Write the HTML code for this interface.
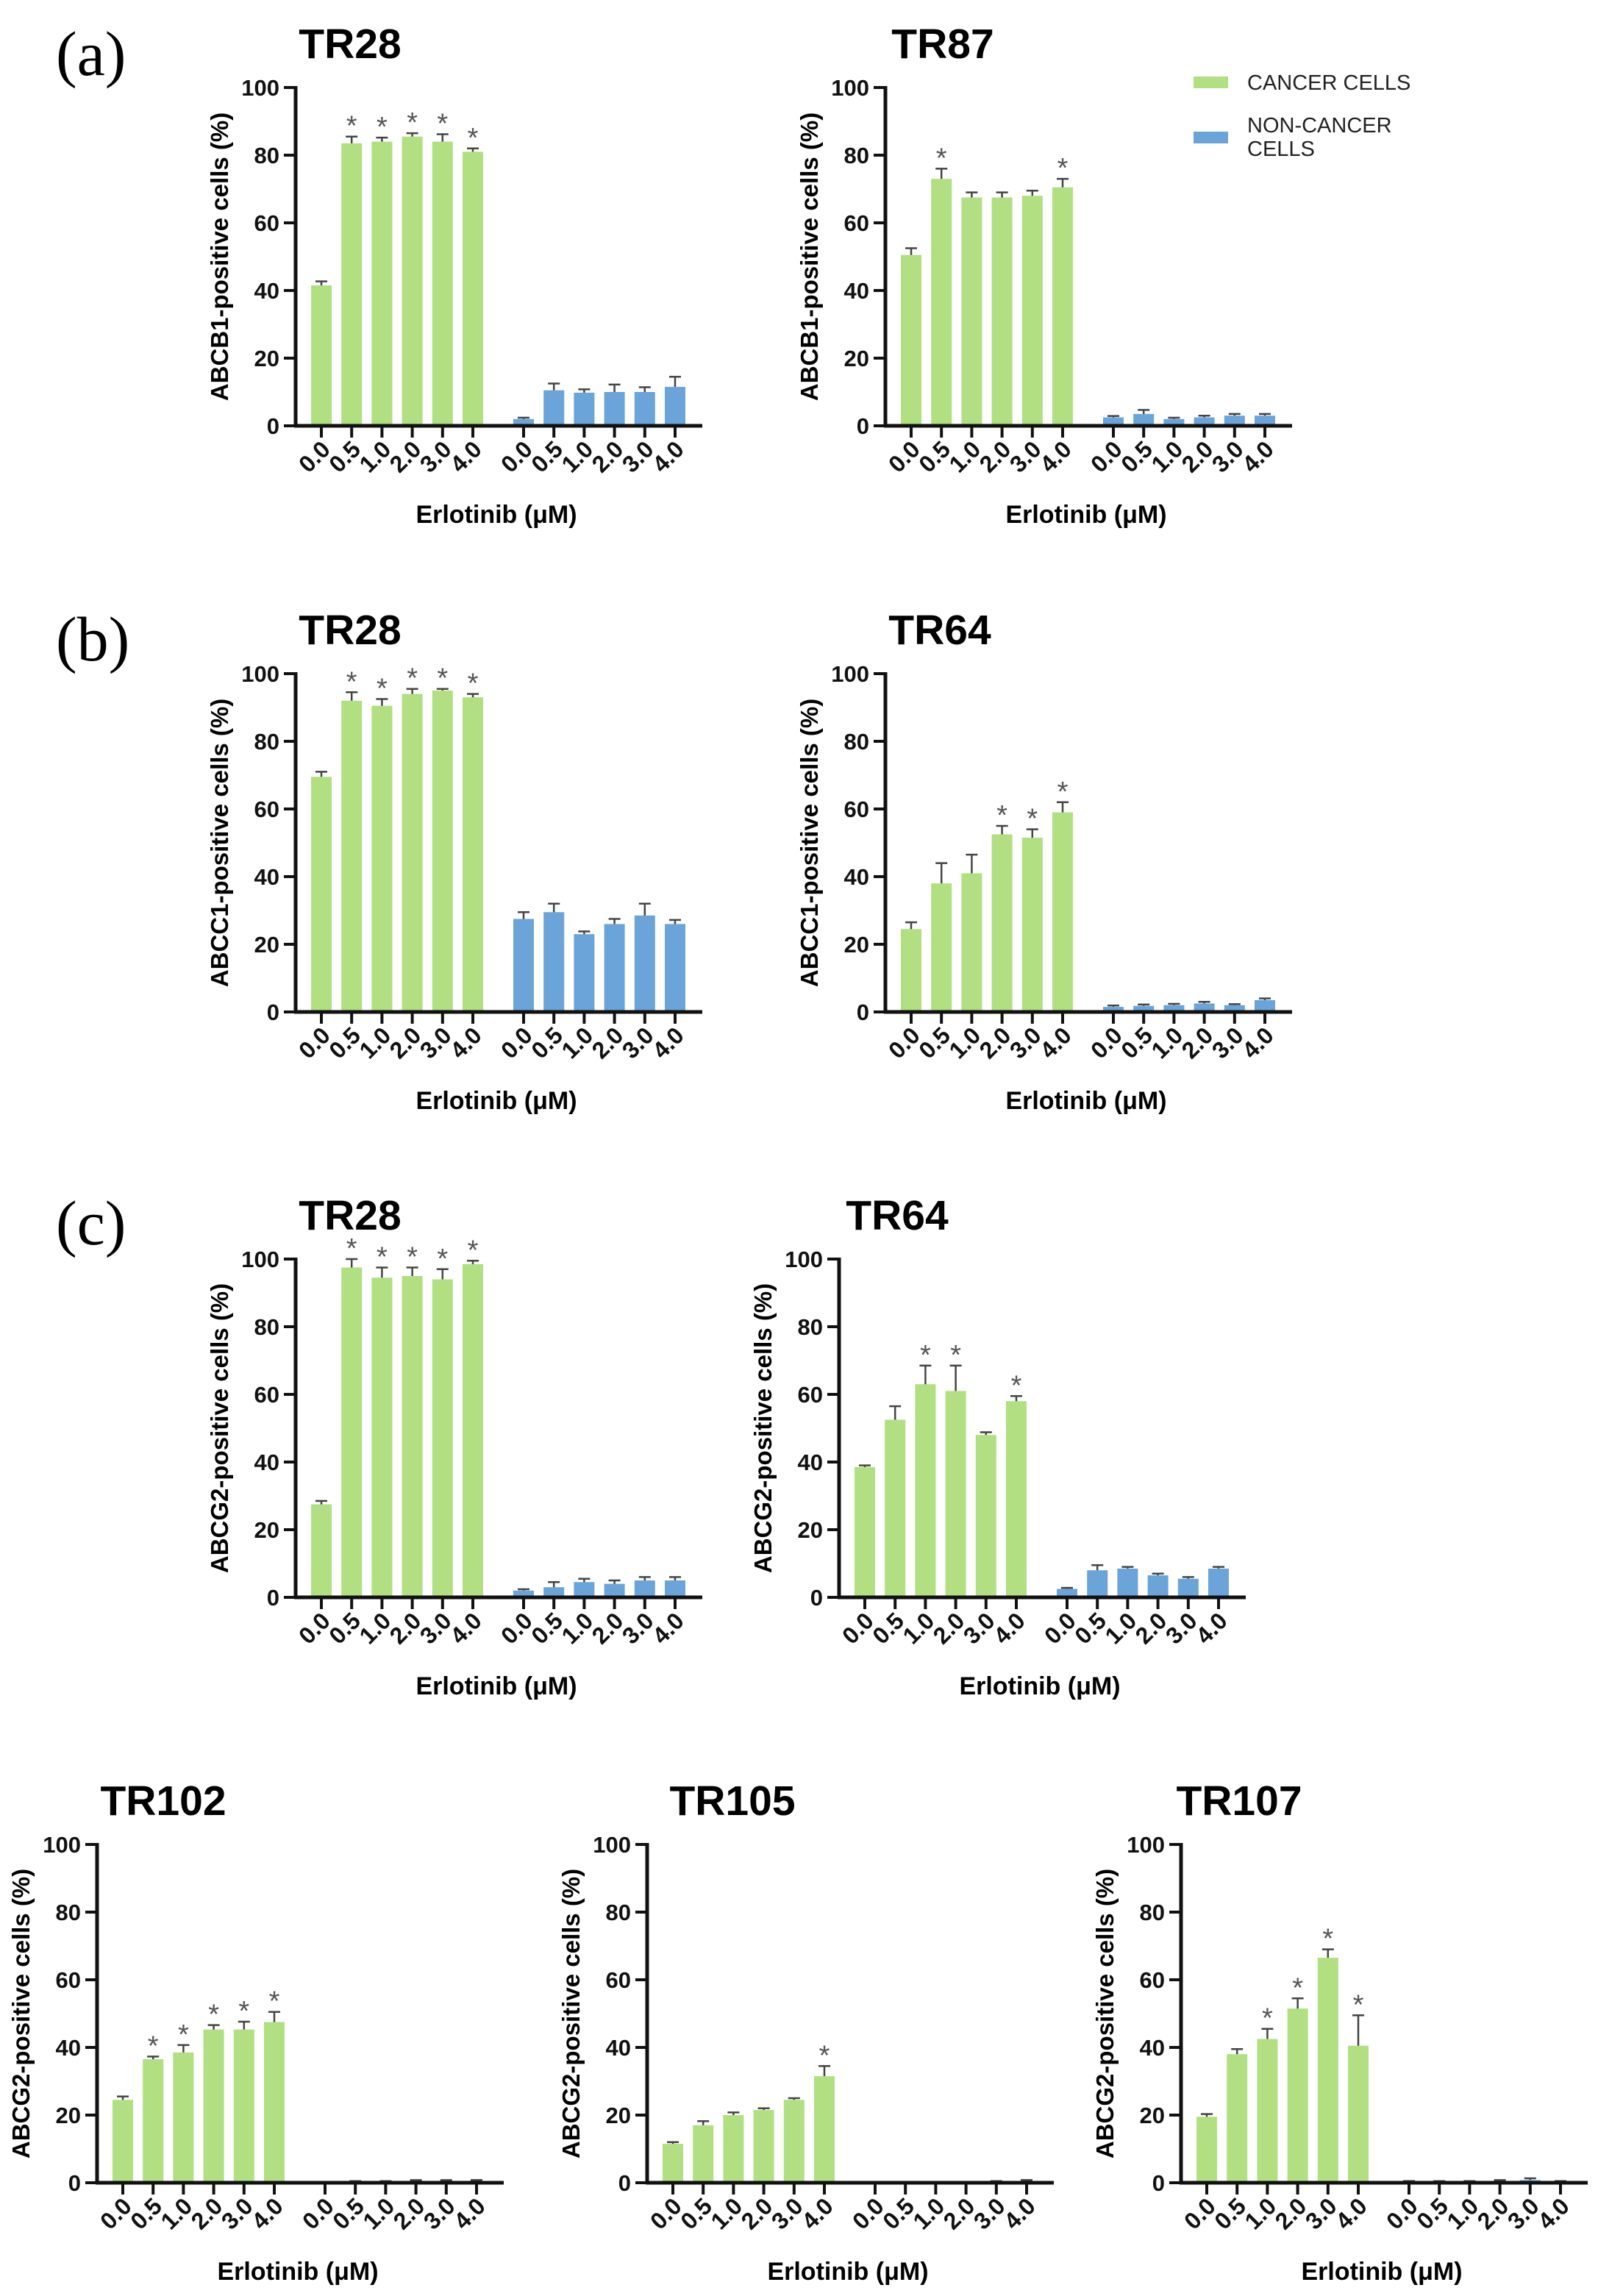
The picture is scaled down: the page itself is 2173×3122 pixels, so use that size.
<!DOCTYPE html>
<html><head><meta charset="utf-8">
<style>
html,body{margin:0;padding:0;background:#fff;}
svg{display:block;}
text{font-family:"Liberation Sans",Arial,sans-serif;}
text.serif{font-family:"Liberation Serif",serif;}
</style></head>
<body>
<svg id="fig" width="2173" height="3122" viewBox="0 0 2173 3122" xmlns="http://www.w3.org/2000/svg">
<rect width="2173" height="3122" fill="#fff"/>
<text class="serif" x="76" y="102" font-size="86">(a)</text>
<text class="serif" x="76" y="898" font-size="86">(b)</text>
<text class="serif" x="76" y="1692" font-size="86">(c)</text>
<g>
<rect x="1623" y="104" width="47" height="16" fill="#b1df82"/>
<text x="1696" y="122" font-size="29" fill="#222">CANCER CELLS</text>
<rect x="1623" y="179" width="47" height="16" fill="#6aa4d8"/>
<text x="1696" y="180" font-size="29" fill="#222">NON-CANCER</text>
<text x="1696" y="212" font-size="29" fill="#222">CELLS</text>
</g>
</svg>
<script>
const doses = ["0.0","0.5","1.0","2.0","3.0","4.0"];
const yTicks = [0,20,40,60,80,100];
// panel a-left TR28 ABCB1
const aL_green = [41.5,83.5,84,85.5,84,81];
const aL_greenErr = [1.2,2,1.2,1,2.2,1];
const aL_blue = [2,10.5,9.8,10,10,11.5];
const aL_blueErr = [0.4,2,1,2.2,1.4,3];
const aL_stars = [0,1,1,1,1,1];
// panel a-right TR87 ABCB1
const aR_green = [50.5,73,67.5,67.5,68,70.5];
const aR_greenErr = [2,3,1.5,1.5,1.5,2.5];
const aR_blue = [2.5,3.5,2,2.5,3,3];
const aR_blueErr = [0.4,1.2,0.4,0.5,0.5,0.5];
const aR_stars = [0,1,0,0,0,1];
// panel b-left TR28 ABCC1
const bL_green = [69.5,92,90.5,94,95,93];
const bL_greenErr = [1.5,2.5,2,1.5,0.5,1];
const bL_blue = [27.5,29.5,23,26,28.5,26];
const bL_blueErr = [2,2.5,0.8,1.5,3.5,1.2];
const bL_stars = [0,1,1,1,1,1];
// panel b-right TR64 ABCC1
const bR_green = [24.5,38,41,52.5,51.5,59];
const bR_greenErr = [2,6,5.5,2.5,2.5,3];
const bR_blue = [1.5,1.8,2,2.5,2,3.5];
const bR_blueErr = [0.4,0.4,0.4,0.5,0.3,0.5];
const bR_stars = [0,0,0,1,1,1];
// panel c-left TR28 ABCG2
const cL_green = [27.5,97.5,94.5,95,94,98.5];
const cL_greenErr = [1,2.5,3,2.5,3,1];
const cL_blue = [2,3,4.5,4,5,5];
const cL_blueErr = [0.4,1.5,1,1,1,1];
const cL_stars = [0,1,1,1,1,1];
// panel c-right TR64 ABCG2
const cR_green = [38.5,52.5,63,61,48,58];
const cR_greenErr = [0.5,4,5.5,7.5,0.8,1.5];
const cR_blue = [2.5,8,8.5,6.5,5.5,8.5];
const cR_blueErr = [0.3,1.5,0.5,0.5,0.5,0.5];
const cR_stars = [0,0,1,1,0,1];
// TR102
const d1_green = [24.5,36.5,38.5,45.3,45.3,47.5];
const d1_greenErr = [1,0.8,2.2,1.3,2.3,3];
const d1_blue = [0,0.3,0.3,0.5,0.5,0.5];
const d1_blueErr = [0,0.2,0.2,0.3,0.3,0.3];
const d1_stars = [0,1,1,1,1,1];
// TR105
const d2_green = [11.5,17,20,21.5,24.5,31.5];
const d2_greenErr = [0.5,1.2,0.8,0.5,0.5,3];
const d2_blue = [0,0,0,0,0.3,0.5];
const d2_blueErr = [0,0,0,0,0.2,0.3];
const d2_stars = [0,0,0,0,0,1];
// TR107
const d3_green = [19.5,38,42.5,51.5,66.5,40.5];
const d3_greenErr = [0.8,1.5,3,3,2.5,9];
const d3_blue = [0.3,0.3,0.3,0.5,0.8,0.3];
const d3_blueErr = [0.2,0.2,0.2,0.3,0.5,0.2];
const d3_stars = [0,0,1,1,1,1];

const NS = "http://www.w3.org/2000/svg";
const svg = document.getElementById('fig');
function mk(tag, attrs, parent){
  const e = document.createElementNS(NS, tag);
  for (const k in attrs) e.setAttribute(k, attrs[k]);
  (parent||svg).appendChild(e);
  return e;
}
function panel(id, x0, z, title, titleX, ylab, green, gErr, blue, bErr, stars){
  const g = mk('g', {});
  
  
  const H = 460;
  const yS = v => z - v / 100 * H;
  const xS = (grp, i) => x0 + 35 + grp * 275 + i * 41.2;
  const t = mk('text', {x: titleX, y: z - 500, 'font-size': 57, 'font-weight': 'bold', 'text-anchor': 'middle'}, g);
  t.textContent = title;
  
  
  yTicks.forEach(v => {
    const yy = yS(v);
    const tk = mk('line', {x1: x0 - 16, x2: x0, y1: yy, y2: yy, stroke: '#111', 'stroke-width': 4}, g);
    
    
    const tl = mk('text', {x: x0 - 22, y: yy + 11, 'font-size': 31, 'font-weight': 'bold', 'text-anchor': 'end', fill: '#111'}, g);
    tl.textContent = v;
    
    
  });
  const yl = mk('text', {x: 0, y: 0, 'font-size': 33, 'font-weight': 'bold', 'text-anchor': 'middle', transform: `translate(${x0 - 92},${z - 230}) rotate(-90)`}, g);
  yl.textContent = ylab;
  
  
  [[green, gErr, '#b1df82', 0], [blue, bErr, '#6aa4d8', 1]].forEach(([vals, errs, col, grp]) => {
    vals.forEach((v, i) => {
      const cx = xS(grp, i);
      const top = yS(v);
      const b = mk('rect', {x: cx - 14, y: top, width: 28, height: Math.max(0, z - top), fill: col}, g);
      
      
      const et = yS(v + errs[i]);
      if (errs[i] > 0) {
        const e1 = mk('line', {x1: cx, x2: cx, y1: top, y2: et, stroke: '#444', 'stroke-width': 2.5}, g);
        
        
        const e2 = mk('line', {x1: cx - 8, x2: cx + 8, y1: et, y2: et, stroke: '#444', 'stroke-width': 2.5}, g);
        
        
      }
      if (!grp && stars[i]) {
        const s = mk('text', {x: cx, y: et - 2, 'font-size': 38, 'text-anchor': 'middle', fill: '#555'}, g);
        s.textContent = '*';
        
        
      }
      const xt = mk('line', {x1: cx, x2: cx, y1: z, y2: z + 16, stroke: '#111', 'stroke-width': 4}, g);
      
      
      const xl = mk('text', {x: 0, y: 0, 'font-size': 32, 'font-weight': 'bold', 'text-anchor': 'end', fill: '#111', transform: `translate(${cx + 14},${z + 34}) rotate(-45)`}, g);
      xl.textContent = doses[i];
      
      
    });
  });
  const ya = mk('line', {x1: x0, x2: x0, y1: z - H - 2, y2: z + 2, stroke: '#111', 'stroke-width': 5}, g);
  
  
  const xa = mk('line', {x1: x0 - 2, x2: x0 + 553, y1: z, y2: z, stroke: '#111', 'stroke-width': 5}, g);
  
  
  const xt = mk('text', {x: x0 + 273, y: z + 132, 'font-size': 34, 'font-weight': 'bold', 'text-anchor': 'middle'}, g);
  xt.textContent = 'Erlotinib (\u03BCM)';
  
  
}
panel('a-tr28', 402, 579, 'TR28', 476, 'ABCB1-positive cells (%)', aL_green, aL_greenErr, aL_blue, aL_blueErr, aL_stars);
panel('a-tr87', 1204, 579, 'TR87', 1282, 'ABCB1-positive cells (%)', aR_green, aR_greenErr, aR_blue, aR_blueErr, aR_stars);
panel('b-tr28', 402, 1376, 'TR28', 476, 'ABCC1-positive cells (%)', bL_green, bL_greenErr, bL_blue, bL_blueErr, bL_stars);
panel('b-tr64', 1204, 1376, 'TR64', 1278, 'ABCC1-positive cells (%)', bR_green, bR_greenErr, bR_blue, bR_blueErr, bR_stars);
panel('c-tr28', 402, 2172, 'TR28', 476, 'ABCG2-positive cells (%)', cL_green, cL_greenErr, cL_blue, cL_blueErr, cL_stars);
panel('c-tr64', 1141, 2172, 'TR64', 1220, 'ABCG2-positive cells (%)', cR_green, cR_greenErr, cR_blue, cR_blueErr, cR_stars);
panel('d-tr102', 132, 2968, 'TR102', 222, 'ABCG2-positive cells (%)', d1_green, d1_greenErr, d1_blue, d1_blueErr, d1_stars);
panel('d-tr105', 880, 2968, 'TR105', 996, 'ABCG2-positive cells (%)', d2_green, d2_greenErr, d2_blue, d2_blueErr, d2_stars);
panel('d-tr107', 1606, 2968, 'TR107', 1685, 'ABCG2-positive cells (%)', d3_green, d3_greenErr, d3_blue, d3_blueErr, d3_stars);
</script>
</body></html>
